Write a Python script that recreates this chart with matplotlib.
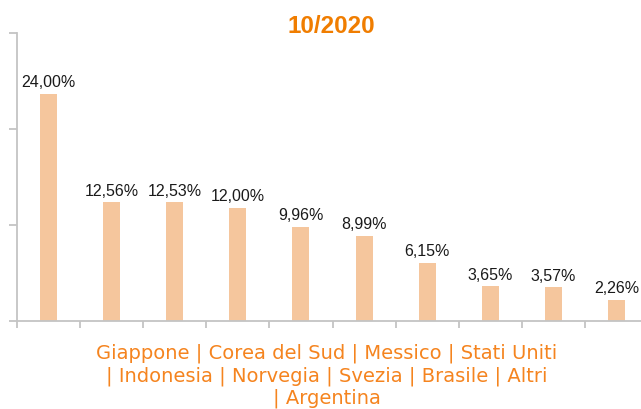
import matplotlib
matplotlib.use("Agg")
import matplotlib.pyplot as plt
import numpy as np

title = "10/2020"
categories = ["Giappone", "Corea del Sud", "Messico", "Stati Uniti", "Indonesia",
              "Norvegia", "Svezia", "Brasile", "Altri", "Argentina"]
values = [24.00, 12.56, 12.53, 12.00, 9.96, 8.99, 6.15, 3.65, 3.57, 2.26]
y_max = 30.45
n_y_ticks = 4

BAR = "#F5C69D"
ORANGE = "#F07D00"
LABEL_ORANGE = "#F5841F"
GRID = "#C4C4C4"

W, H = 641, 410
fig = plt.figure(figsize=(W / 100, H / 100), dpi=100)
ax = fig.add_axes([17 / W, (H - 322) / H, 631 / W, 288 / H])

x = np.arange(len(categories))
ax.bar(x, values, width=0.27, color=BAR, zorder=2)
ax.set_xlim(-0.5, len(categories) - 0.5)
ax.set_ylim(0, y_max)

for xi, v in zip(x, values):
    ax.annotate(f"{v:.2f}".replace(".", ",") + "%", (xi, v), xytext=(0, 5.5),
                textcoords="offset points", ha="center", va="baseline",
                fontsize=11.5, family="Liberation Sans", color="#1A1A1A")

for s in ["top", "right"]:
    ax.spines[s].set_visible(False)
for s in ["left", "bottom"]:
    ax.spines[s].set_color(GRID)
    ax.spines[s].set_linewidth(1.3)

ax.set_yticks(np.linspace(0, y_max, n_y_ticks))
ax.set_yticklabels([])
ax.tick_params(axis="y", length=6, width=1.3, color=GRID)
ax.set_xticks(np.arange(len(categories)) - 0.5)
ax.set_xticklabels([])
ax.tick_params(axis="x", length=5, width=1.3, color=GRID, direction="out")

fig.text(331 / W, 1 - 33 / H, title, ha="center", va="baseline", fontsize=17.5,
         fontweight="bold", color=ORANGE, family="Liberation Sans")

lines = [categories[:4], categories[4:9], categories[9:]]
label = " | ".join(lines[0]) + "\n| " + " | ".join(lines[1]) + "\n| " + " | ".join(lines[2])
fig.text(327 / W, 1 - 344 / H, label, ha="center", va="top", fontsize=14,
         color=LABEL_ORANGE, family="DejaVu Sans", linespacing=1.2)

fig.savefig("out.png", dpi=100)
